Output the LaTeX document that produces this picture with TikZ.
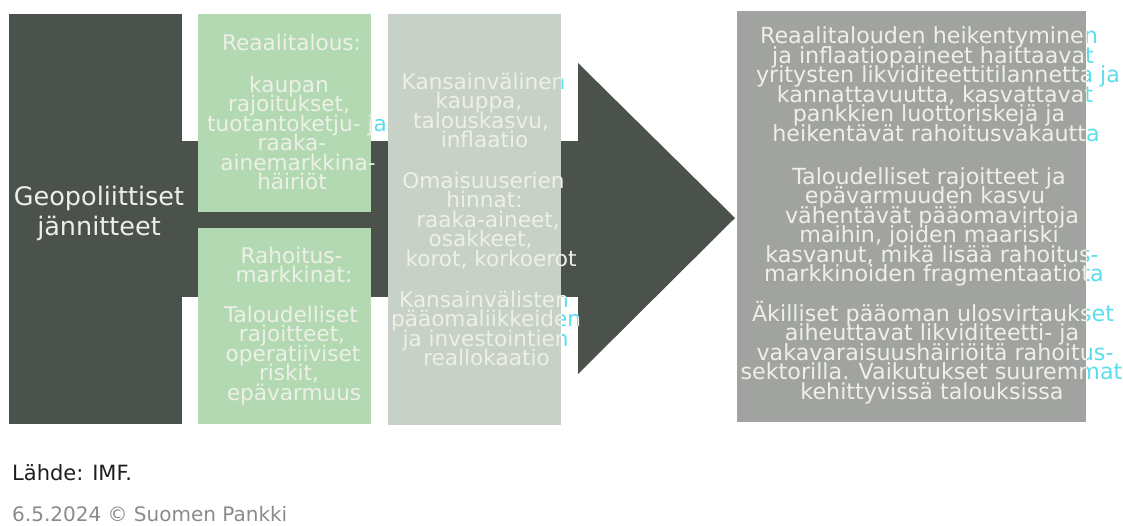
\documentclass[tikz,border=0pt]{standalone}
\usepackage{fontspec}
\setmainfont{DejaVu Sans}
\definecolor{darkg}{HTML}{4B524B}
\definecolor{greenbox}{HTML}{B3D9B3}
\definecolor{midbox}{HTML}{C7D1C7}
\definecolor{rightbox}{HTML}{A0A39F}
\definecolor{lighttext}{HTML}{EEF0E8}
\definecolor{fringe}{RGB}{90,222,238}
\definecolor{srctext}{HTML}{1E1E1E}
\definecolor{datetext}{HTML}{8A8C8A}
% items: x-offset / runs-past-box flag / text
\newcommand\para[5]{%
  \foreach \dx/\f/\l [count=\i from 0] in {#5} {
    \ifnum\f<\fmode\relax\else
      \node[#4, text=\tcol] (#1\fmode-\i) at ({#2+\dx}, {#3+19.55*\i}) {\l};
    \fi
  }}
\newcommand\alltext{%
  \para{ga}{291}{50}{ln}{0.5/0/Reaalitalous:}
  \para{gb}{291}{92}{ln}{-2/0/kaupan, -2/0/{rajoitukset,}, 6/1/tuotantoketju- ja, 1/0/raaka-, 7/0/ainemarkkina-, 1/0/häiriöt}
  \para{gc}{291}{263}{ln}{0.5/0/Rahoitus-, 3/0/markkinat:}
  \para{gd}{291}{322}{ln}{0/0/Taloudelliset, 1/0/{rajoitteet,}, 2/0/operatiiviset, -2/0/{riskit,}, 3/0/epävarmuus}
  \para{ma}{485}{89}{ln}{-1.5/1/Kansainvälinen, -6/0/{kauppa,}, -4/0/{talouskasvu,}, -0.5/0/inflaatio}
  \para{mb}{485}{188}{ln}{-1.5/0/Omaisuuserien, -0.5/0/hinnat:, 3/0/{raaka-aineet,}, -4.5/0/{osakkeet,}, 6/0/{korot, korkoerot}}
  \para{mc}{485}{307}{ln}{-1/1/Kansainvälisten, 1/1/pääomaliikkeiden, 0.5/1/ja investointien, 1.5/0/reallokaatio}
  \para{ra}{929}{43.5}{rln}{0/1/Reaalitalouden heikentyminen, 4/1/ja inflaatiopaineet haittaavat, 9/1/yritysten likviditeettitilannetta ja, 6/1/{kannattavuutta, kasvattavat}, 0/0/pankkien luottoriskejä ja, 7/1/heikentävät rahoitusvakautta}
  \para{rb}{929}{184}{rln}{0/0/Taloudelliset rajoitteet ja, -4/0/epävarmuuden kasvu, 3/0/vähentävät pääomavirtoja, 0/0/{maihin, joiden maariski}, 3/1/{kasvanut, mikä lisää rahoitus-}, 5/1/markkinoiden fragmentaatiota}
  \para{rc}{929}{321}{rln}{4/1/Äkilliset pääoman ulosvirtaukset, 3/0/aiheuttavat likviditeetti- ja, 6/1/vakavaraisuushäiriöitä rahoitus-, 2.5/1/sektorilla. Vaikutukset suuremmat, 3/0/kehittyvissä talouksissa}
}
\begin{document}
\begin{tikzpicture}[x=1pt,y=-1pt,
  ln/.style={anchor=base, inner sep=0pt, text height=14pt, text depth=4pt,
             font=\fontsize{21.6}{19.5}\selectfont},
  rln/.style={ln, font=\fontsize{22.2}{19.5}\selectfont},
  bigln/.style={anchor=base, inner sep=0pt, text=lighttext, font=\fontsize{25.5}{30}\selectfont}]
\useasboundingbox (0,0) rectangle (1123,525);
\fill[white] (0,0) rectangle (1123,525);
% shapes
\fill[darkg] (9,14) rectangle (182,424);
\fill[darkg] (182,141) rectangle (578,297);
\fill[darkg] (578,63) -- (735,218) -- (578,374) -- cycle;
\fill[greenbox] (198,14) rectangle (371,212);
\fill[greenbox] (198,228) rectangle (371,424);
\fill[midbox] (388,14) rectangle (561,425);
\fill[rightbox] (737,11) rectangle (1086,422);
\node[bigln] (geo1) at (99,205) {Geopoliittiset};
\node[bigln] (geo2) at (99,235) {jännitteet};
% parts of lines that run past their box onto the white background
\begin{scope}[even odd rule]
\clip (0,0) rectangle (1123,525)
  (9,14) -- (182,14) -- (182,141) -- (198,141) -- (198,212) -- (371,212)
    -- (371,141) -- (388,141) -- (388,297) -- (371,297) -- (371,228)
    -- (198,228) -- (198,297) -- (182,297) -- (182,424) -- (9,424) -- cycle
  (561,141) -- (578,141) -- (578,63) -- (735,218) -- (578,374)
    -- (578,297) -- (561,297) -- cycle
  (198,14) rectangle (371,212) (198,228) rectangle (371,424)
  (388,14) rectangle (561,425) (737,11) rectangle (1086,422);
\def\fmode{1}\def\tcol{fringe}
\alltext
\end{scope}
% the texts on the shapes
\begin{scope}
\clip (9,14) rectangle (182,424) (182,141) rectangle (578,297)
      (578,63) -- (735,218) -- (578,374) -- cycle
      (198,14) rectangle (371,212) (198,228) rectangle (371,424)
      (388,14) rectangle (561,425) (737,11) rectangle (1086,422);
\def\fmode{0}\def\tcol{lighttext}
\alltext
\end{scope}
% footer
\node[anchor=base west, inner sep=0pt, font=\fontsize{21}{24}\selectfont, text=srctext] (src) at (12,480) {Lähde: IMF.};
\node[anchor=base west, inner sep=0pt, font=\fontsize{20}{24}\selectfont, text=datetext] (date) at (12,521) {6.5.2024 © Suomen Pankki};
\end{tikzpicture}
\end{document}
